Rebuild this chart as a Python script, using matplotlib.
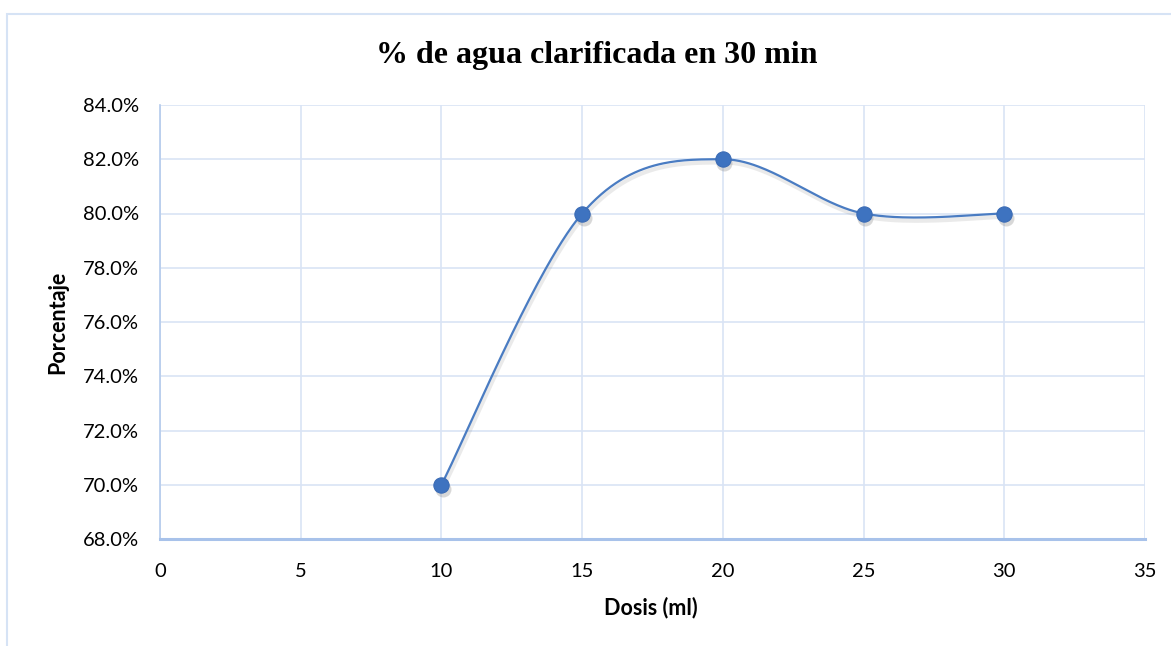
import numpy as np
import matplotlib
matplotlib.use("Agg")
import matplotlib.pyplot as plt
from matplotlib.patches import Rectangle
from matplotlib.ticker import FuncFormatter, MultipleLocator

# Data
dosis = [10, 15, 20, 25, 30]
porcentaje = [70.0, 80.0, 82.0, 80.0, 80.0]
title = "% de agua clarificada en 30 min"
xlabel = "Dosis (ml)"
ylabel = "Porcentaje"

W, H = 1171, 646
fig = plt.figure(figsize=(W / 100, H / 100), dpi=100)

# chart border
fig.patches.append(Rectangle((7 / W, -0.2), 1.2, 1.2 - 14 / H, transform=fig.transFigure,
                             fill=False, edgecolor="#D6E3F5", linewidth=1.5))

ax = fig.add_axes([160 / W, 1 - 539 / H, (1145 - 160) / W, (539 - 105) / H])

def smooth(xs, ys, n=60):
    pts = np.column_stack([xs, ys]).astype(float)
    P = np.vstack([pts[0], pts, pts[-1]])
    out = []
    for i in range(1, len(P) - 2):
        p0, p1, p2, p3 = P[i - 1], P[i], P[i + 1], P[i + 2]
        c1 = p1 + (p2 - p0) / 6.0
        c2 = p2 - (p3 - p1) / 6.0
        t = np.linspace(0, 1, n)[:, None]
        seg = ((1 - t) ** 3) * p1 + 3 * ((1 - t) ** 2) * t * c1 + 3 * (1 - t) * t ** 2 * c2 + t ** 3 * p2
        out.append(seg if i == 1 else seg[1:])
    s = np.vstack(out)
    return s[:, 0], s[:, 1]

sx, sy = smooth(dosis, porcentaje)
blue = "#4A7CC2"
ax.plot(sx + 0.05, sy - 0.12, color="#777777", alpha=0.15, linewidth=3, zorder=2)
ax.plot(sx, sy, color=blue, linewidth=1.6, zorder=3)
# marker shadow
ax.plot(np.array(dosis) + 0.05, np.array(porcentaje) - 0.15, linestyle="none", marker="o",
        markersize=11.5, markerfacecolor="#7f7f7f", markeredgecolor="none", alpha=0.3, zorder=3)
ax.plot(dosis, porcentaje, linestyle="none", marker="o", markersize=11,
        markerfacecolor="#3E73C0", markeredgecolor="#3A6BB5", markeredgewidth=0.8, zorder=4)

ax.set_xlim(0, 35)
ax.set_ylim(68, 84)
ax.xaxis.set_major_locator(MultipleLocator(5))
ax.yaxis.set_major_locator(MultipleLocator(2))
ax.yaxis.set_major_formatter(FuncFormatter(lambda v, p: f"{v:.1f}%"))
ax.grid(True, color="#D9E4F5", linewidth=1.2)
ax.set_axisbelow(True)
for s in ["top", "right"]:
    ax.spines[s].set_visible(False)
ax.spines["left"].set_color("#B4CBEC")
ax.spines["left"].set_linewidth(1.2)
ax.spines["bottom"].set_color("#A8C2EA")
ax.spines["bottom"].set_linewidth(2.2)
ax.tick_params(length=0, labelsize=14.5, colors="#000000")
ax.tick_params(axis="x", pad=17)
ax.tick_params(axis="y", pad=15)
for lab in ax.get_xticklabels() + ax.get_yticklabels():
    lab.set_fontfamily("Lato")

fig.text(597 / W, 1 - 55 / H, title, ha="center", va="center", fontsize=23,
         fontweight="bold", family="Liberation Serif")
fig.text(651 / W, 1 - 608 / H, xlabel, ha="center", va="center", fontsize=15.5,
         fontweight="bold", family="Lato")
fig.text(58 / W, 1 - 322 / H, ylabel, ha="center", va="center", fontsize=15.5,
         fontweight="bold", family="Lato", rotation=90)

fig.savefig("out.png", dpi=100)
